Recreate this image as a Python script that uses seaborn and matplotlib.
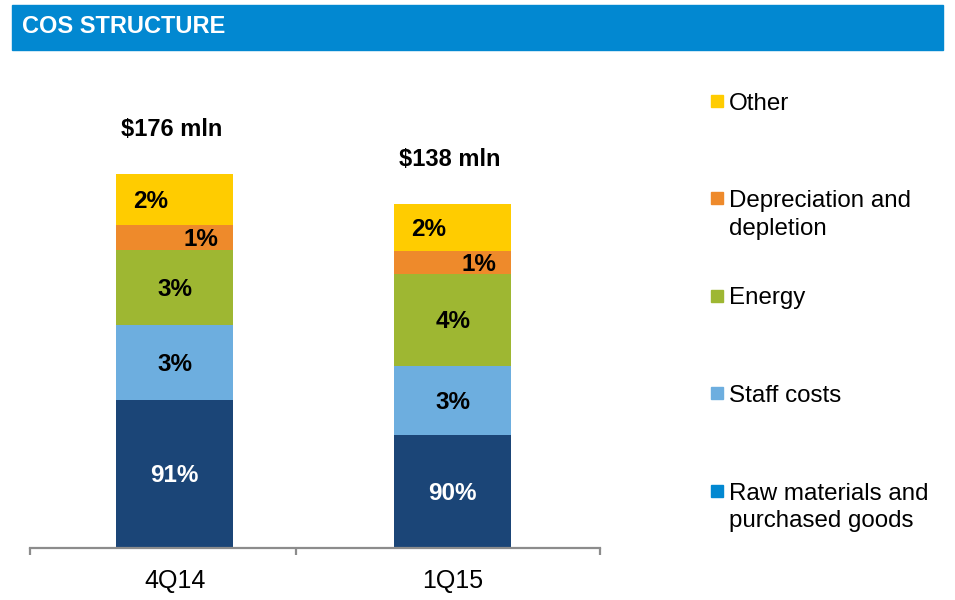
import numpy as np
import matplotlib
matplotlib.use("Agg")
import matplotlib.pyplot as plt
from matplotlib.patches import Rectangle
import seaborn as sns

# Data
periods = ["4Q14", "1Q15"]
totals = ["$176 mln", "$138 mln"]
components = ["Raw materials and\npurchased goods", "Staff costs", "Energy",
              "Depreciation and\ndepletion", "Other"]
# segment heights as drawn on the slide (display units, bottom -> top)
raw_h = [148, 113]
staff_h = [75, 69]
energy_h = [75, 92]
depr_h = [25, 23]
other_h = [51, 47]
raw_lbl = ["91%", "90%"]
staff_lbl = ["3%", "3%"]
energy_lbl = ["3%", "4%"]
depr_lbl = ["1%", "1%"]
other_lbl = ["2%", "2%"]

bar_colors = ["#1B4577", "#6DAEDF", "#9EB732", "#EE8A2B", "#FFCC00"]
legend_colors = ["#0288D1", "#6DAEDF", "#9EB732", "#EE8A2B", "#FFCC00"]

sns.set_theme(style="white")
plt.rcParams["font.family"] = ["Liberation Sans", "DejaVu Sans"]

fig = plt.figure(figsize=(9.55, 6.0), dpi=100)
W, H = 955, 600

# header band
fig.patches.append(Rectangle((12 / W, 1 - 50 / H), (943 - 12) / W, 45 / H,
                             transform=fig.transFigure, color="#0288D1", zorder=0))
fig.text(22 / W, 1 - 33 / H, "COS STRUCTURE", color="white", fontsize=17,
         fontweight="bold", va="baseline", ha="left")

ax = fig.add_axes([30 / W, 1 - 548 / H, 570 / W, 488 / H])

layers = [raw_h, staff_h, energy_h, depr_h, other_h]
labels = [raw_lbl, staff_lbl, energy_lbl, depr_lbl, other_lbl]
stack = np.cumsum(np.array(layers), axis=0)

# draw cumulative bars from top layer down so each covers the one above it
for i in range(len(layers) - 1, -1, -1):
    sns.barplot(x=periods, y=stack[i], color=bar_colors[i], width=0.42,
                saturation=1, linewidth=0, ax=ax, zorder=2)

# segment labels (baseline placed so the digits are centred in the segment)
offsets = [0, 0, 0, 0.095, -0.085]
for i, lbls in enumerate(labels):
    for j, txt in enumerate(lbls):
        bottom = stack[i - 1][j] if i > 0 else 0
        y = bottom + layers[i][j] / 2
        ax.text(j + offsets[i], y - 8.5, txt, ha="center", va="baseline",
                fontsize=17.5, fontweight="bold",
                color="white" if i == 0 else "black", zorder=3)

# totals above the bars
for j, t in enumerate(totals):
    ax.text(j - 0.01, stack[-1][j] + 47 - 8.5, t, ha="center", va="baseline",
            fontsize=17, fontweight="bold", color="black")

ax.set_xlim(-0.52, 1.53)
ax.set_ylim(0, 488)
ax.set_yticks([])
ax.set_ylabel("")
for s in ["top", "right", "left"]:
    ax.spines[s].set_visible(False)
ax.spines["bottom"].set_color("#8C8C8C")
ax.spines["bottom"].set_linewidth(1.6)
ax.set_xticks([0, 1])
ax.set_xticklabels(periods, fontsize=18, color="black")
ax.set_xticks([-0.52, 0.435, 1.53], minor=True)
ax.tick_params(axis="x", which="major", length=0, pad=15)
ax.tick_params(axis="x", which="minor", length=5, width=1.6, color="#8C8C8C",
               direction="out", bottom=True)

# legend (top to bottom: Other ... Raw materials)
leg_y = [101, 198, 296, 393, 491]
for k, yy in enumerate(leg_y):
    idx = len(components) - 1 - k
    fig.patches.append(Rectangle((711 / W, 1 - (yy + 6) / H), 12 / W, 12 / H,
                                 transform=fig.transFigure,
                                 color=legend_colors[idx]))
    for n, line in enumerate(components[idx].split("\n")):
        fig.text(729 / W, 1 - (yy + 8.5 + 28 * n) / H, line, fontsize=17.4,
                 ha="left", va="baseline", color="black")

fig.savefig("out.png", dpi=100)
